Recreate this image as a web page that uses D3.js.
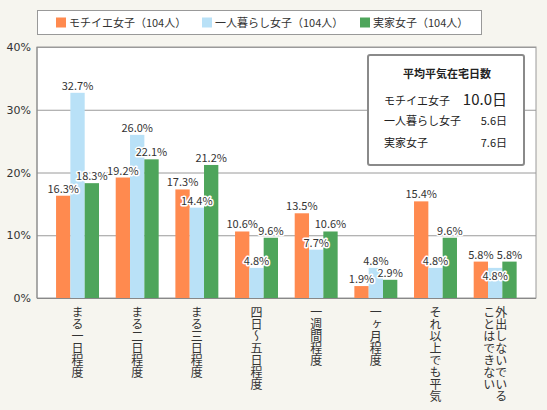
<!DOCTYPE html>
<html>
<head>
<meta charset="utf-8">
<script src="https://cdn.jsdelivr.net/npm/d3@7"></script>
<style>
  body { margin: 0; background: #f6f5ef; }
  svg { display: block; font-family: "Noto Sans CJK JP", "Noto Sans", sans-serif; }
</style>
</head>
<body>
<svg id="chart" width="547" height="410"></svg>
<script>
// Categories (second column for the last one is a wrapped line)
const categories = [
  ['まる一日程度'],
  ['まる二日程度'],
  ['まる三日程度'],
  ['四日〜五日程度'],
  ['一週間程度'],
  ['一ヶ月程度'],
  ['それ以上でも平気'],
  ['外出しないでいる', 'ことはできない']
];
const seriesNames = ['モチイエ女子（104人）', '一人暮らし女子（104人）', '実家女子（104人）'];
const mochiie = [16.3, 19.2, 17.3, 10.6, 13.5, 1.9, 15.4, 5.8];
const hitori = [32.7, 26.0, 14.4, 4.8, 7.7, 4.8, 4.8, 4.8];
const jikka = [18.3, 22.1, 21.2, 9.6, 10.6, 2.9, 9.6, 5.8];
const yTicks = [0, 10, 20, 30, 40];
const avgNames = ['モチイエ女子', '一人暮らし女子', '実家女子'];
const avgDays = ['10.0日', '5.6日', '7.6日'];

const colors = ['#ff8a4f', '#b9e1f7', '#4ea55b'];
const series = [mochiie, hitori, jikka];

const svg = d3.select('#chart');
const plot = {left: 37, right: 536, top: 47, bottom: 298};

const x = d3.scaleBand()
    .domain(d3.range(categories.length))
    .range([47.7, 525])
    .paddingInner(0.28)
    .paddingOuter(0.14);
const xs = d3.scaleBand().domain(d3.range(3)).range([0, x.bandwidth()]);
const y = d3.scaleLinear().domain([0, 40]).range([plot.bottom, plot.top]);

// Plot background.
svg.append('rect')
    .attr('x', plot.left).attr('y', plot.top)
    .attr('width', plot.right - plot.left).attr('height', plot.bottom - plot.top)
    .attr('fill', '#fff').attr('stroke', '#9a9a9a');

// Grid + y axis labels.
const yAxis = svg.append('g')
    .attr('transform', `translate(${plot.left},0)`)
    .call(d3.axisLeft(y).tickValues(yTicks).tickSize(-(plot.right - plot.left))
        .tickPadding(6).tickFormat(d => d + '%'));
yAxis.select('.domain').remove();
yAxis.selectAll('.tick line').attr('stroke', '#9a9a9a');
yAxis.selectAll('.tick text')
    .attr('fill', '#333').attr('font-size', 11)
    .attr('font-family', '"DejaVu Sans", sans-serif');

// Bars.
const groups = svg.append('g').selectAll('g')
    .data(series).join('g')
    .attr('fill', (d, i) => colors[i]);
groups.each(function(vals, si) {
  d3.select(this).selectAll('rect').data(vals).join('rect')
      .attr('x', (d, i) => x(i) + xs(si))
      .attr('y', d => y(d))
      .attr('width', xs.bandwidth())
      .attr('height', d => y(0) - y(d));
});

// Axis lines.
svg.append('line').attr('x1', plot.left).attr('x2', plot.left)
    .attr('y1', plot.top).attr('y2', plot.bottom).attr('stroke', '#888');
svg.append('line').attr('x1', plot.left).attr('x2', plot.right)
    .attr('y1', plot.bottom + 0.5).attr('y2', plot.bottom + 0.5).attr('stroke', '#888');

// Value labels with white halo. A middle label squeezed between two
// neighbours at the same height drops into its bar.
const labels = svg.append('g').attr('font-size', 11).attr('text-anchor', 'middle');
series.forEach((vals, si) => {
  vals.forEach((v, i) => {
    let ly = y(v) - 3;
    if (si === 1 && Math.abs(y(v) - y(mochiie[i])) < 12 && Math.abs(y(v) - y(jikka[i])) < 12) {
      ly = y(v) + 12;
    }
    labels.append('text')
        .attr('x', x(i) + xs(si) + xs.bandwidth() / 2)
        .attr('y', ly)
        .attr('fill', '#333')
        .attr('stroke', '#fff').attr('stroke-width', 3)
        .attr('paint-order', 'stroke').attr('stroke-linejoin', 'round')
        .text(v.toFixed(1) + '%');
  });
});

// Category labels, vertical.
const cat = svg.append('g').attr('font-size', 12).attr('fill', '#333');
categories.forEach((lines, i) => {
  const cx = x(i) + x.bandwidth() / 2;
  lines.forEach((line, j) => {
    const off = (lines.length - 1) * 6 - j * 12;
    cat.append('text')
        .attr('x', cx + off)
        .attr('y', 306)
        .style('writing-mode', 'vertical-rl')
        .text(line);
  });
});

// Legend.
const legend = svg.append('g');
legend.append('rect').attr('x', 37.5).attr('y', 10.5).attr('width', 444).attr('height', 24)
    .attr('fill', '#fff').attr('stroke', '#999');
const legendX = [56, 202, 360];
seriesNames.forEach((name, i) => {
  legend.append('rect').attr('x', legendX[i]).attr('y', 17.5).attr('width', 10).attr('height', 10)
      .attr('fill', colors[i]);
  legend.append('text').attr('x', legendX[i] + 13).attr('y', 26.5)
      .attr('font-size', 11).attr('fill', '#333').text(name);
});

// Average days inset.
const inset = svg.append('g');
inset.append('rect').attr('x', 368).attr('y', 55).attr('width', 156).attr('height', 110)
    .attr('fill', '#fff').attr('stroke', '#8a8a8a').attr('stroke-width', 2).attr('rx', 2);
inset.append('text').attr('x', 447).attr('y', 78).attr('text-anchor', 'middle')
    .attr('font-size', 11).attr('font-weight', 'bold').attr('fill', '#222').text('平均平気在宅日数');
const rowY = [105, 125, 147];
avgNames.forEach((n, i) => {
  inset.append('text').attr('x', 384).attr('y', rowY[i])
      .attr('font-size', 11).attr('fill', '#222').text(n);
  inset.append('text').attr('x', 507).attr('y', rowY[i]).attr('text-anchor', 'end')
      .attr('font-size', i === 0 ? 15 : 11).attr('fill', '#222').text(avgDays[i]);
});
</script>
</body>
</html>
